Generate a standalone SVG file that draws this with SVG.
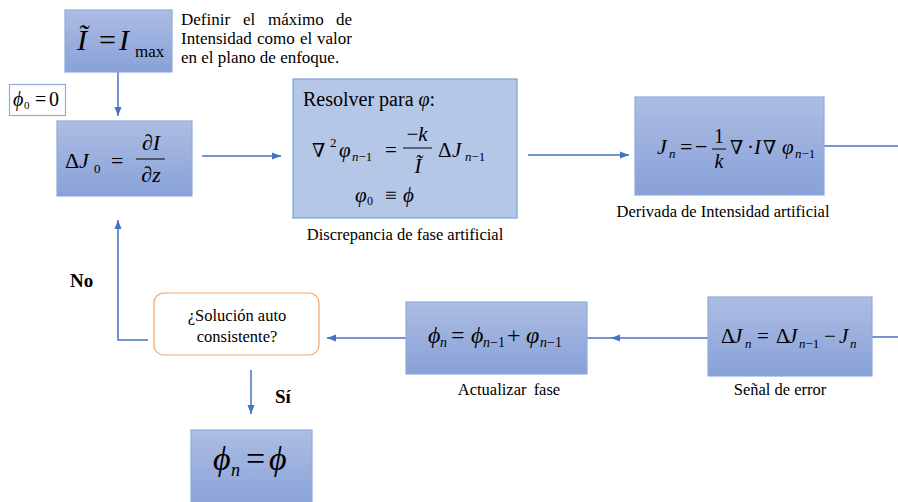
<svg xmlns="http://www.w3.org/2000/svg" width="898" height="502" viewBox="0 0 898 502">
<style>
.box{fill:url(#g);stroke:#8faadc;stroke-width:1.2}
.flat{fill:#b4c7e7;stroke:#7f9fd8;stroke-width:1.2}
.wbox{fill:#fff;stroke:#8faadc;stroke-width:1.2}
.dec{fill:#fff;stroke:#f4a56a;stroke-width:1.2}
.ln{fill:none;stroke:#4472c4;stroke-width:1.5}
.fr{stroke:#000;stroke-width:1}
.m{font-family:"Liberation Serif","Times New Roman",serif;fill:#000}
.nb{font-family:"DejaVu Serif","Liberation Serif",serif;font-weight:normal}
.i{font-style:italic}
.t{font-family:"Liberation Serif","Times New Roman",serif;font-size:16.5px;fill:#000}
.n{font-size:17px}
.b{font-family:"Liberation Serif","Times New Roman",serif;font-size:19px;font-weight:bold;fill:#000}
</style>
<defs>
<linearGradient id="g" x1="0" y1="0" x2="0" y2="1">
<stop offset="0" stop-color="#adbde3"/>
<stop offset="1" stop-color="#88a1d8"/>
</linearGradient>
<marker id="a" markerUnits="userSpaceOnUse" markerWidth="10" markerHeight="10" refX="9" refY="5" orient="auto">
<path d="M0,1.5 L9,5 L0,8.5 Z" fill="#4472c4"/>
</marker>
</defs>

<g id="connectors">
<path class="ln" d="M118,72 V116" marker-end="url(#a)"/>
<path class="ln" d="M202,156 H281" marker-end="url(#a)"/>
<path class="ln" d="M528,155 H629" marker-end="url(#a)"/>
<path class="ln" d="M824,146 H898"/>
<path class="ln" d="M898,337 H872"/>
<path class="ln" d="M708,338 H611" marker-end="url(#a)"/>
<path class="ln" d="M611,338 H587"/>
<path class="ln" d="M406,338 H327" marker-end="url(#a)"/>
<path class="ln" d="M148,340 H118 V220" marker-end="url(#a)"/>
<path class="ln" d="M251,370 V414" marker-end="url(#a)"/>
</g>

<g id="n-itilde">
<rect class="box" x="65" y="10" width="107" height="62"/>
<text class="m" y="50" font-size="30"><tspan class="i" x="77">Ĩ</tspan><tspan x="99">=</tspan><tspan class="i" x="119">I</tspan><tspan x="135" y="57" font-size="17">max</tspan></text>
</g>

<g id="n-note">
<text class="t n" y="25"><tspan x="181">Definir</tspan><tspan x="243">el</tspan><tspan x="268">máximo</tspan><tspan x="336">de</tspan></text>
<text class="t n" y="44"><tspan x="181">Intensidad</tspan><tspan x="257">como</tspan><tspan x="300">el</tspan><tspan x="317">valor</tspan></text>
<text class="t n" x="181" y="63">en el plano de enfoque.</text>
</g>

<g id="n-phi0">
<rect class="wbox" x="9.5" y="84.5" width="56" height="31"/>
<text class="m" y="106" font-size="20"><tspan class="i" x="13">ϕ</tspan><tspan x="24" y="109" font-size="11">0</tspan><tspan x="35" y="106">=</tspan><tspan x="49">0</tspan></text>
</g>

<g id="n-dj0">
<rect class="box" x="57" y="121" width="135" height="75"/>
<text class="m" y="168" font-size="22"><tspan x="65">Δ</tspan><tspan class="i" x="79">J</tspan><tspan x="94" y="173" font-size="13">0</tspan><tspan x="111" y="168">=</tspan></text>
<text class="m i" x="151" y="150" font-size="22" text-anchor="middle">∂I</text>
<line class="fr" x1="136" y1="159" x2="165" y2="159"/>
<text class="m i" x="151" y="182" font-size="22" text-anchor="middle">∂z</text>
</g>

<g id="n-resolver">
<rect class="flat" x="293" y="79" width="224" height="139"/>
<text class="m" x="303" y="106" font-size="20">Resolver para <tspan class="i">φ</tspan>:</text>
<text class="m" y="157" font-size="21"><tspan class="nb" x="312" font-size="19">∇</tspan><tspan x="330" y="147" font-size="13">2</tspan><tspan class="i" x="339" y="157">φ</tspan><tspan class="i" x="352" y="161" font-size="13">n</tspan><tspan font-size="13">−1</tspan><tspan x="385" y="157">=</tspan></text>
<text class="m" x="417" y="141" font-size="21" text-anchor="middle">−<tspan class="i">k</tspan></text>
<line class="fr" x1="403" y1="148" x2="432" y2="148"/>
<text class="m i" x="418" y="173" font-size="21" text-anchor="middle">Ĩ</text>
<text class="m" y="157" font-size="21"><tspan x="438">Δ</tspan><tspan class="i" x="452">J</tspan><tspan class="i" x="465" y="161" font-size="13">n</tspan><tspan font-size="13">−1</tspan></text>
<text class="m" y="202" font-size="21"><tspan class="i" x="355">φ</tspan><tspan x="367" y="205" font-size="12">0</tspan><tspan x="385" y="202">≡</tspan><tspan class="i" x="403">ϕ</tspan></text>
<text class="t" x="405" y="240" text-anchor="middle">Discrepancia de fase artificial</text>
</g>

<g id="n-jn">
<rect class="box" x="635" y="97" width="189" height="98"/>
<text class="m" y="154" font-size="22"><tspan class="i" x="657">J</tspan><tspan class="i" x="669" y="158" font-size="13">n</tspan><tspan x="680" y="154">=</tspan><tspan x="695">−</tspan></text>
<text class="m" x="719" y="143" font-size="20" text-anchor="middle">1</text>
<line class="fr" x1="712" y1="149" x2="726" y2="149"/>
<text class="m i" x="719" y="168" font-size="20" text-anchor="middle">k</text>
<text class="m" y="154" font-size="21"><tspan class="nb" x="730" font-size="19">∇</tspan><tspan x="747">·</tspan><tspan class="i" x="754">I</tspan><tspan class="nb" x="763" font-size="19">∇</tspan><tspan class="i" x="782">φ</tspan><tspan class="i" x="795" y="158" font-size="13">n</tspan><tspan font-size="13">−1</tspan></text>
<text class="t" x="723" y="217" text-anchor="middle">Derivada de Intensidad artificial</text>
</g>

<g id="n-djn">
<rect class="box" x="708" y="297" width="164" height="79"/>
<text class="m" y="343" font-size="21"><tspan x="721">Δ</tspan><tspan class="i" x="733">J</tspan><tspan class="i" x="745" y="348" font-size="13">n</tspan><tspan x="757" y="343">=</tspan><tspan x="776">Δ</tspan><tspan class="i" x="788">J</tspan><tspan class="i" x="799" y="348" font-size="13">n</tspan><tspan font-size="13">−1</tspan><tspan x="824" y="343">−</tspan><tspan class="i" x="839">J</tspan><tspan class="i" x="850" y="348" font-size="13">n</tspan></text>
<text class="t" x="780" y="395" text-anchor="middle">Señal de error</text>
</g>

<g id="n-update">
<rect class="box" x="406" y="302" width="181" height="72"/>
<text class="m" y="343" font-size="24"><tspan class="i" x="428">ϕ</tspan><tspan class="i" x="440" y="347" font-size="14">n</tspan><tspan x="451" y="343">=</tspan><tspan class="i" x="471">ϕ</tspan><tspan class="i" x="483" y="347" font-size="14">n</tspan><tspan font-size="14">−1</tspan><tspan x="507" y="343">+</tspan><tspan class="i" x="526">φ</tspan><tspan class="i" x="540" y="347" font-size="14">n</tspan><tspan font-size="14">−1</tspan></text>
<text class="t" x="509" y="395" text-anchor="middle" word-spacing="3">Actualizar fase</text>
</g>

<g id="n-decision">
<rect class="dec" x="154" y="293" width="165" height="62" rx="10"/>
<text class="t" x="237" y="321" text-anchor="middle">¿Solución auto</text>
<text class="t" x="237" y="342" text-anchor="middle">consistente?</text>
</g>

<g id="n-labels">
<text class="b" x="70" y="287">No</text>
<text class="b" x="275" y="403">Sí</text>
</g>

<g id="n-final">
<rect class="box" x="191" y="430" width="121" height="80"/>
<text class="m" y="470" font-size="34"><tspan class="i" x="213">ϕ</tspan><tspan class="i" x="231" y="476" font-size="18">n</tspan><tspan x="246" y="470">=</tspan><tspan class="i" x="269">ϕ</tspan></text>
</g>
</svg>
